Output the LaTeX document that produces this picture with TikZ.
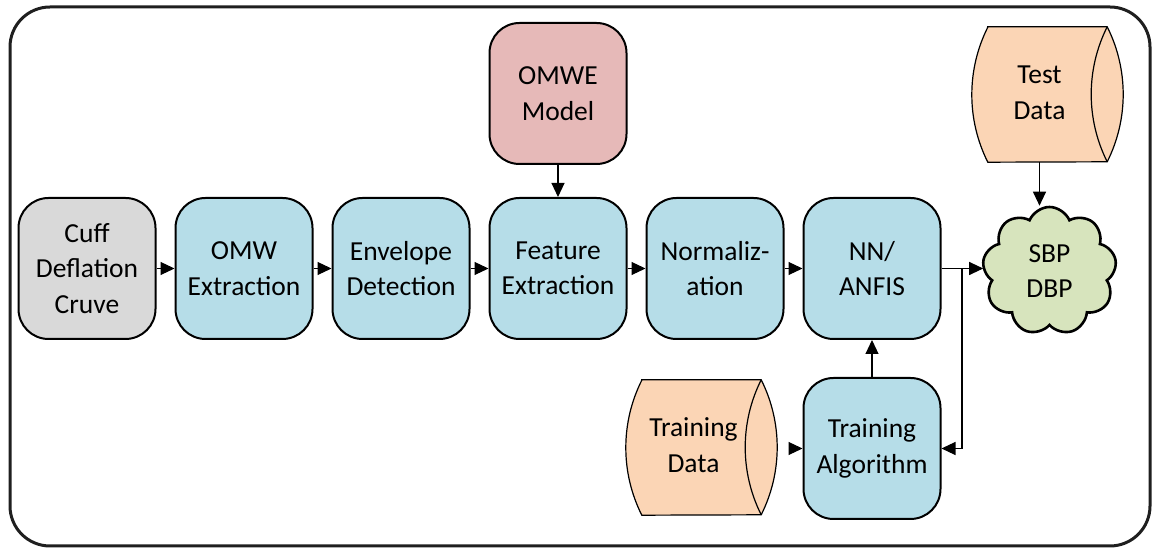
\documentclass[tikz,border=0pt]{standalone}
\usepackage{fontspec}
\setmainfont{Carlito}
\usetikzlibrary{shapes.symbols,arrows.meta}
\definecolor{procblue}{HTML}{B6DDE8}
\definecolor{srcgray}{HTML}{D9D9D9}
\definecolor{modelpink}{HTML}{E6B9B8}
\definecolor{datapeach}{HTML}{FBD5B5}
\definecolor{outgreen}{HTML}{D7E4BD}
\newcommand\boxfont{\fontsize{27.5}{35.5}\selectfont}
% text of a data store, shifted left to sit in the body of the drum
\newcommand\drumtext[1]{\begin{tabular}{@{}c@{\hspace{16pt}}}#1\end{tabular}}
% outline of a horizontal data drum drawn around node #1:
% circular end caps with a sag of 16pt over a height of 135pt
\newcommand\drum[1]{%
  \filldraw[fill=datapeach, draw=black, line width=1.2pt]
    ([xshift=16pt]#1.north west) -- ([xshift=-16pt]#1.north east)
    arc[start angle=26.67, end angle=-26.67, radius=150.4pt]
    -- ([xshift=16pt]#1.south west)
    arc[start angle=206.67, end angle=153.33, radius=150.4pt] -- cycle;
  \draw[line width=1.2pt] ([xshift=-16pt]#1.north east)
    arc[start angle=153.33, end angle=206.67, radius=150.4pt];}
\begin{document}
\begin{tikzpicture}[x=1pt,y=1pt,
  proc/.style={draw=black, line width=2pt, rounded corners=30pt,
    minimum width=137pt, minimum height=141pt, align=center,
    inner sep=0pt, font=\boxfont, fill=procblue},
  store/.style={minimum width=151pt, minimum height=135pt, inner sep=0pt,
    font=\boxfont},
  arr/.style={line width=1.1pt, -{Triangle[length=14pt,width=13pt]}}]
\useasboundingbox (0,0) rectangle (1152,548);
\draw[line width=3pt, draw=black!88, rounded corners=40pt] (10,2) rectangle (1150,541);

% main processing chain
\node[proc, fill=srcgray] (cuff) at (87,279.5) {Cuff\\Deflation\\Cruve};
\node[proc] (omw)  at (244,279.5) {OMW\\Extraction};
\node[proc] (env)  at (401,279.5) {Envelope\\Detection};
\node[proc] (feat) at (558,279.5) {Feature\\Extraction};
\node[proc] (norm) at (715,279.5) {Normaliz-\\ation};
\node[proc] (nn)   at (872,279.5) {NN/\\ANFIS};
\node[proc, fill=modelpink] (omwe) at (558,454.5) {OMWE\\Model};
\node[proc] (ta)   at (872,99.5) {Training\\Algorithm};

% data stores
\path (701.5,100.5) node[store] (td) {};
\drum{td}
\node[store] at (td) {\drumtext{Training\\Data}};
\path (1047.5,453.5) node[store] (test) {};
\drum{test}
\node[store] at (test) {\drumtext{Test\\Data}};

% result
\node[cloud, cloud puffs=9, cloud puff arc=135, cloud ignores aspect,
  minimum width=134pt, minimum height=128pt, inner sep=0pt,
  draw=black, line width=2.6pt, fill=outgreen, align=center, font=\boxfont]
  (res) at (1049.5,277) {SBP\\DBP};

% connectors
\draw[arr] (cuff) -- (omw);
\draw[arr] (omw) -- (env);
\draw[arr] (env) -- (feat);
\draw[arr] (feat) -- (norm);
\draw[arr] (norm) -- (nn);
\draw[arr] (omwe) -- (feat);
\draw[arr] (nn.east) -- (nn.east -| res.west);
\coordinate (fork) at (962,279.5);
\draw[arr] (fork) |- (ta.east);
\draw[arr] (ta) -- (nn);
\draw[arr] ([xshift=16pt]td.east |- ta.west) -- (ta.west);
\draw[arr] ([xshift=-8pt]test.south) -- ([xshift=-8pt]test.south |- res.north);
\end{tikzpicture}
\end{document}
